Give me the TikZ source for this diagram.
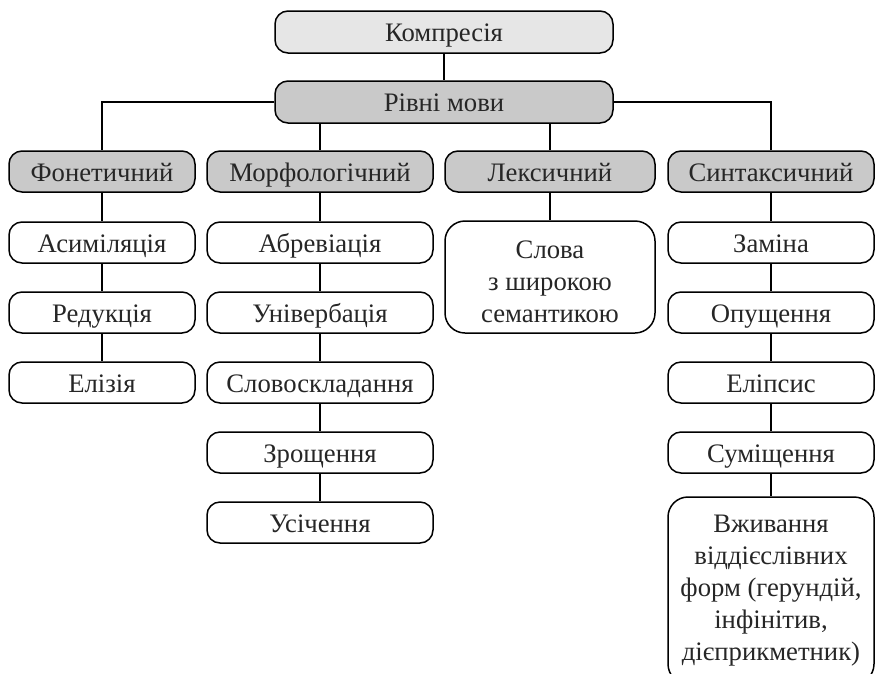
\documentclass[tikz,border=0pt]{standalone}
\usepackage{fontspec}
\setmainfont{Liberation Serif}
\definecolor{lightg}{HTML}{E6E6E6}
\definecolor{midg}{HTML}{C9C9C9}
\begin{document}
\begin{tikzpicture}[x=1pt,y=-1pt,
  box/.style={draw, line width=1.5pt, rounded corners=13pt, rectangle, inner sep=0pt,
    minimum height=41pt, align=center, font=\fontsize{26.7}{32}\selectfont, text=black!85,
    text height=22pt, text depth=3pt},
  tall/.style={text height=, text depth=, rounded corners=20pt},
  lvl/.style={box, fill=midg},
  line/.style={line width=1.5pt}]
\clip (0,0) rectangle (875,673);
\node[box, fill=lightg, minimum width=338pt, minimum height=42pt] (komp) at (444,32) {Компресія};
\node[lvl, minimum width=338pt, minimum height=42pt] (riv) at (444,102) {Рівні мови};
\node[lvl, minimum width=186pt] (fon) at (102,171.5) {Фонетичний};
\node[lvl, minimum width=226pt] (morf) at (320,171.5) {Морфологічний};
\node[lvl, minimum width=210pt] (lex) at (550,171.5) {Лексичний};
\node[lvl, minimum width=206pt] (syn) at (771,171.5) {Синтаксичний};
% phonetic column
\node[box, minimum width=186pt] (as) at (102,242.5) {Асиміляція};
\node[box, minimum width=186pt] (red) at (102,312.5) {Редукція};
\node[box, minimum width=186pt] (eli) at (102,382.5) {Елізія};
% morphological column
\node[box, minimum width=226pt] (abr) at (320,242.5) {Абревіація};
\node[box, minimum width=226pt] (uni) at (320,312.5) {Універбація};
\node[box, minimum width=226pt] (slo) at (320,382.5) {Словоскладання};
\node[box, minimum width=226pt] (zro) at (320,452.5) {Зрощення};
\node[box, minimum width=226pt] (usi) at (320,522.5) {Усічення};
% lexical
\node[box, tall, minimum width=210pt, minimum height=112pt] (slw) at (550,277) {\rule{0pt}{28pt}Слова\\з широкою\\семантикою};
% syntactic
\node[box, minimum width=206pt] (zam) at (771,242.5) {Заміна};
\node[box, minimum width=206pt] (opu) at (771,312.5) {Опущення};
\node[box, minimum width=206pt] (elp) at (771,382.5) {Еліпсис};
\node[box, minimum width=206pt] (sum) at (771,452.5) {Суміщення};
\node[box, tall, minimum width=206pt, minimum height=187pt] (vzh) at (771,590.5) {Вживання\\віддієслівних\\форм (герундій,\\інфінітив,\\дієприкметник)};
% connectors
\draw[line] (komp) -- (riv);
\draw[line] (riv.west) -| (fon.north);
\draw[line] (riv.east) -| (syn.north);
\draw[line] (morf.north |- riv.south) -- (morf.north);
\draw[line] (lex.north |- riv.south) -- (lex.north);
\draw[line] (fon) -- (as);
\draw[line] (as) -- (red);
\draw[line] (red) -- (eli);
\draw[line] (morf) -- (abr);
\draw[line] (abr) -- (uni);
\draw[line] (uni) -- (slo);
\draw[line] (slo) -- (zro);
\draw[line] (zro) -- (usi);
\draw[line] (lex) -- (slw);
\draw[line] (syn) -- (zam);
\draw[line] (zam) -- (opu);
\draw[line] (opu) -- (elp);
\draw[line] (elp) -- (sum);
\draw[line] (sum) -- (vzh);
\end{tikzpicture}
\end{document}
